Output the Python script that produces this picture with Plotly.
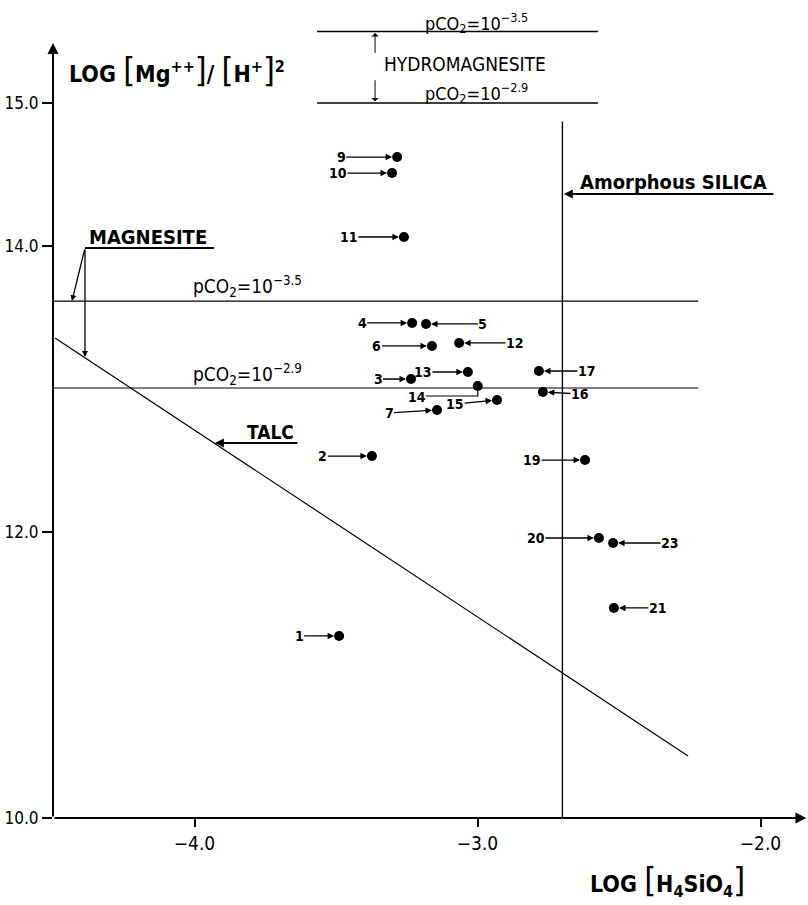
import plotly.graph_objects as go

# ---------------- data ----------------
sample_ids = ["1", "2", "3", "4", "5", "6", "7", "9", "10", "11",
              "12", "13", "14", "15", "16", "17", "19", "20", "21", "23"]
log_h4sio4 = [-3.489, -3.373, -3.235, -3.231, -3.182, -3.161, -3.143, -3.284, -3.302, -3.260,
              -3.065, -3.034, -2.999, -2.931, -2.769, -2.783, -2.620, -2.571, -2.518, -2.521]
log_mg_h2 = [11.273, 12.531, 13.070, 13.462, 13.455, 13.301, 12.853, 14.622, 14.510, 14.063,
             13.322, 13.119, 13.021, 12.923, 12.979, 13.126, 12.503, 11.958, 11.469, 11.923]

amorphous_silica_x = -2.70
silica_top_y = 14.87
magnesite_levels = [13.615, 13.007]          # pCO2 = 10^-3.5, 10^-2.9
magnesite_x_extent = [-4.5, -2.22]
hydromagnesite_levels = [15.5, 15.0]         # pCO2 = 10^-3.5, 10^-2.9
hydromagnesite_x_extent = [-3.567, -2.574]
talc_x = [-4.493, -2.256]
talc_y = [13.357, 10.434]

x_tick_vals = [-4.0, -3.0, -2.0]
x_tick_text = ["\u22124.0", "\u22123.0", "\u22122.0"]
y_tick_vals = [10.0, 12.0, 14.0, 15.0]
y_tick_text = ["10.0", "12.0", "14.0", "15.0"]

# ---------------- layout helpers (pixel offsets of labels) ----------------
label_dx = {"1": -40, "2": -49, "3": -33, "4": -50, "5": 57, "6": -55, "7": -48,
            "9": -56, "10": -54, "11": -55, "12": 56, "13": -45, "15": -42,
            "16": 37, "17": 48, "19": -53, "20": -63, "21": 44, "23": 57}
label_dy = {"15": 4, "16": 2, "7": 3}

FONT = "DejaVu Sans Condensed, DejaVu Sans, sans-serif"
X0, X1 = -4.5, -4.5 + 754 / 283
Y0, Y1 = 10.0, 10.0 + 818 / 143

fig = go.Figure()

# reference lines
for lv in magnesite_levels:
    fig.add_trace(go.Scatter(x=magnesite_x_extent, y=[lv, lv], mode="lines",
                             line=dict(color="black", width=1.2), hoverinfo="skip", showlegend=False))
for lv in hydromagnesite_levels:
    fig.add_trace(go.Scatter(x=hydromagnesite_x_extent, y=[lv, lv], mode="lines",
                             line=dict(color="black", width=1.6), hoverinfo="skip", showlegend=False))
fig.add_trace(go.Scatter(x=[amorphous_silica_x, amorphous_silica_x], y=[Y0, silica_top_y], mode="lines",
                         line=dict(color="black", width=1.4), hoverinfo="skip", showlegend=False))
fig.add_trace(go.Scatter(x=talc_x, y=talc_y, mode="lines",
                         line=dict(color="black", width=1.2), hoverinfo="skip", showlegend=False))

# sample 14 bent leader line (label below-left of the point)
i14 = sample_ids.index("14")
x14, y14 = log_h4sio4[i14], log_mg_h2[i14]
fig.add_trace(go.Scatter(x=[x14 - 52 / 283, x14, x14], y=[y14 - 10 / 143, y14 - 10 / 143, y14],
                         mode="lines", line=dict(color="black", width=1.2),
                         hoverinfo="skip", showlegend=False, cliponaxis=False))

# data points
fig.add_trace(go.Scatter(x=log_h4sio4, y=log_mg_h2, mode="markers",
                         marker=dict(color="black", size=10), cliponaxis=False,
                         showlegend=False, text=sample_ids))

ann = []
# point labels with arrows
for sid, xv, yv in zip(sample_ids, log_h4sio4, log_mg_h2):
    if sid == "14":
        ann.append(dict(x=xv, y=yv, xref="x", yref="y", text=sid, showarrow=False,
                        xshift=-61, yshift=-11,
                        font=dict(family=FONT, size=14, color="black", weight="bold")))
        continue
    ann.append(dict(x=xv, y=yv, xref="x", yref="y", text=sid, showarrow=True,
                    ax=label_dx[sid], ay=label_dy.get(sid, 0), axref="pixel", ayref="pixel",
                    arrowhead=2, arrowsize=1.0, arrowwidth=1.3, arrowcolor="black", standoff=5,
                    borderpad=0,
                    font=dict(family=FONT, size=14, color="black", weight="bold")))

def arrow(tip, tail, width=1.3, head=2, size=1.0):
    return dict(x=tip[0], y=tip[1], ax=tail[0], ay=tail[1], xref="x", yref="y",
                axref="x", ayref="y", text="", showarrow=True, arrowhead=head,
                arrowsize=size, arrowwidth=width, arrowcolor="black", standoff=0)

def label(x, y, text, size, weight="bold", xanchor="center"):
    return dict(x=x, y=y, xref="x", yref="y", text=text, showarrow=False, xanchor=xanchor,
                yanchor="middle", borderpad=0,
                font=dict(family=FONT, size=size, color="black", weight=weight))

# axes drawn as arrows
ann.append(arrow((X0, 15.42), (X0, Y0), width=2, head=2, size=1.1))
ann.append(arrow((X1 - 0.002, Y0), (X0, Y0), width=2, head=2, size=1.1))

# amorphous silica
ann.append(label(-2.309, 14.45, "Amorphous SILICA", 20))
ann.append(arrow((amorphous_silica_x + 0.005, 14.364), (-1.949, 14.364), width=2, head=2, size=0.9))

# magnesite
ann.append(label(-4.166, 14.06, "MAGNESITE", 20))
fig.add_trace(go.Scatter(x=[-4.387, -3.931], y=[13.986, 13.986], mode="lines",
                         line=dict(color="black", width=2), hoverinfo="skip", showlegend=False))
ann.append(arrow((-4.433, magnesite_levels[0]), (-4.387, 13.986), width=1.3, head=2, size=0.9))
ann.append(arrow((-4.387, 13.224), (-4.387, 13.986), width=1.3, head=2, size=0.9))
ann.append(label(-3.814, 13.72, "pCO<sub>2</sub>=10<sup>\u22123.5</sup>", 19, weight="normal"))
ann.append(label(-3.814, 13.10, "pCO<sub>2</sub>=10<sup>\u22122.9</sup>", 19, weight="normal"))

# talc
ann.append(label(-3.733, 12.70, "TALC", 19))
ann.append(arrow((-3.928, 12.622), (-3.631, 12.622), width=2, head=2, size=0.9))

# hydromagnesite
ann.append(label(-3.005, 15.56, "pCO<sub>2</sub>=10<sup>\u22123.5</sup>", 18, weight="normal"))
ann.append(label(-3.044, 15.275, "HYDROMAGNESITE", 19, weight="normal"))
ann.append(label(-3.005, 15.07, "pCO<sub>2</sub>=10<sup>\u22122.9</sup>", 18, weight="normal"))
ann.append(arrow((-3.362, hydromagnesite_levels[0] - 0.01), (-3.362, 15.34), width=1, head=1, size=1.2))
ann.append(arrow((-3.362, hydromagnesite_levels[1] + 0.01), (-3.362, 15.17), width=1, head=1, size=1.2))

# axis titles
big = "<span style='font-size:34px;font-weight:normal'>"
ann.append(dict(x=0.018, y=(818 - 70) / 818, xref="paper", yref="paper", xanchor="left",
                yanchor="middle", showarrow=False,
                text="LOG " + big + "[</span>Mg<sup>++</sup>" + big + "]</span>/ "
                     + big + "[</span>H<sup>+</sup>" + big + "]</span><sup>2</sup>",
                font=dict(family=FONT, size=23, color="black", weight="bold")))
ann.append(dict(x=(588 - 53) / 754, y=-(880 - 818) / 818, xref="paper", yref="paper",
                xanchor="left", yanchor="middle", showarrow=False,
                text="LOG " + big + "[</span>H<sub>4</sub>SiO<sub>4</sub>" + big + "]</span>",
                font=dict(family=FONT, size=23, color="black", weight="bold")))

fig.update_layout(
    width=808, height=905,
    margin=dict(l=53, r=1, t=0, b=87, pad=0),
    paper_bgcolor="white", plot_bgcolor="white",
    showlegend=False,
    annotations=ann,
    xaxis=dict(range=[X0, X1], showgrid=False, zeroline=False, showline=False,
               tickmode="array", tickvals=x_tick_vals, ticktext=x_tick_text,
               ticks="outside", ticklen=8, tickwidth=1.5, tickcolor="black",
               tickfont=dict(family=FONT, size=19, color="black")),
    yaxis=dict(range=[Y0, Y1], showgrid=False, zeroline=False, showline=False,
               tickmode="array", tickvals=y_tick_vals, ticktext=y_tick_text,
               ticks="outside", ticklen=10, tickwidth=1.5, tickcolor="black",
               tickfont=dict(family=FONT, size=17, color="black")),
)

fig.write_html("out.html")
